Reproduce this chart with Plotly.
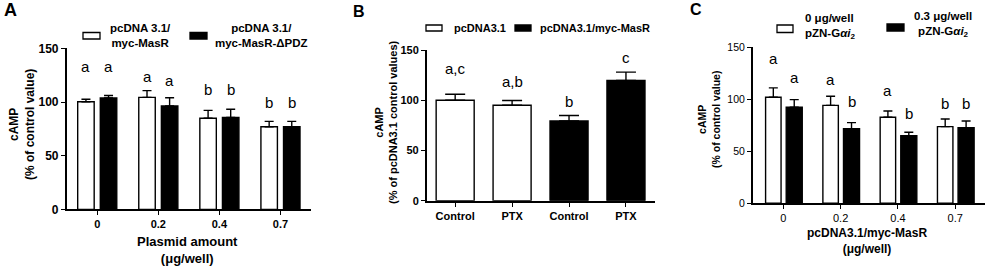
import plotly.graph_objects as go

# ---------------- data ----------------
# Panel A
a_groups = ["0", "0.2", "0.4", "0.7"]
a_names = ["pcDNA 3.1/<br>myc-MasR", "pcDNA 3.1/<br>myc-MasR-ΔPDZ"]
a_white = [100.3, 104.3, 84.8, 77.0]
a_white_err = [2.2, 6.3, 7.4, 5.0]
a_black = [103.7, 96.3, 85.7, 77.0]
a_black_err = [2.3, 7.7, 7.5, 5.0]
a_white_letters = ["a", "a", "b", "b"]
a_black_letters = ["a", "a", "b", "b"]

# Panel B
b_cats = ["Control", "PTX", "Control", "PTX"]
b_names = ["pcDNA3.1", "pcDNA3.1/myc-MasR"]
b_white = [100.0, 95.0]
b_white_err = [6.0, 4.8]
b_black = [79.5, 119.7]
b_black_err = [5.3, 8.3]
b_letters = ["a,c", "a,b", "b", "c"]

# Panel C
c_groups = ["0", "0.2", "0.4", "0.7"]
c_names = ["0 μg/well<br>pZN-G<i>αi</i><sub>2</sub>", "0.3 μg/well<br>pZN-G<i>αi</i><sub>2</sub>"]
c_white = [101.9, 94.2, 82.7, 73.7]
c_white_err = [9.1, 8.8, 6.1, 7.3]
c_black = [92.3, 71.8, 65.0, 72.8]
c_black_err = [7.4, 5.8, 3.3, 6.4]
c_white_letters = ["a", "a", "a", "b"]
c_black_letters = ["a", "b", "b", "b"]

# label heights (layout, in data units)
a_white_lab_y = [133, 123.6, 111.8, 99.4]
a_black_lab_y = [133, 119.6, 111.8, 99.4]
b_lab_y = [131.7, 118.4, 98.4, 142.7]
c_white_lab_y = [139.4, 119.2, 108, 96.1]
c_black_lab_y = [121.1, 97.7, 86.5, 96.1]

# ---------------- layout helpers ----------------
W, H = 1000, 271
FONT = "Liberation Sans, Arial, sans-serif"


def px(x):
    return x / W


def py(y):
    return 1 - y / H


fig = go.Figure()

LINE = dict(color="black", width=1.4)


def add_bars(xpos, vals, errs, color, xaxis, yaxis, offset, width, capw):
    fig.add_trace(go.Bar(
        x=xpos, y=vals, xaxis=xaxis, yaxis=yaxis,
        offset=offset, width=width,
        marker=dict(color=color, line=LINE),
        error_y=dict(type="data", array=errs, arrayminus=[0] * len(errs),
                     symmetric=False, color="black", thickness=1.4, width=capw),
        showlegend=False,
    ))


# Panel A
ax_pos = list(range(len(a_groups)))
add_bars(ax_pos, a_white, a_white_err, "white", "x", "y", -0.32, 0.27, 4.5)
add_bars(ax_pos, a_black, a_black_err, "black", "x", "y", 0.05, 0.27, 4.5)

# Panel B
add_bars([0, 1], b_white, b_white_err, "white", "x2", "y2", -0.334, 0.668, 10)
add_bars([2, 3], b_black, b_black_err, "black", "x2", "y2", -0.334, 0.668, 10)

# Panel C
cx_pos = list(range(len(c_groups)))
add_bars(cx_pos, c_white, c_white_err, "white", "x3", "y3", -0.31, 0.27, 4.5)
add_bars(cx_pos, c_black, c_black_err, "black", "x3", "y3", 0.05, 0.28, 4.5)


def xaxis_cfg(domain, rng, ticktext, bold, anchor):
    return dict(
        domain=domain, range=rng, anchor=anchor, automargin=False,
        tickmode="array", tickvals=list(range(len(ticktext))), ticktext=ticktext,
        showline=True, linecolor="black", linewidth=1.5,
        ticks="outside", ticklen=4, tickwidth=1.4, tickcolor="black",
        showgrid=False, zeroline=False, fixedrange=True,
        tickfont=dict(family=FONT, size=11, color="black",
                      weight="bold" if bold else "normal"),
    )


def yaxis_cfg(domain, bold, anchor, size):
    return dict(
        domain=domain, range=[0, 150], anchor=anchor, automargin=False,
        tickmode="array", tickvals=[0, 50, 100, 150],
        showline=True, linecolor="black", linewidth=1.5,
        ticks="outside", ticklen=4, tickwidth=1.4, tickcolor="black",
        showgrid=False, zeroline=False, fixedrange=True,
        tickfont=dict(family=FONT, size=size, color="black",
                      weight="bold" if bold else "normal"),
    )


fig.update_layout(
    width=W, height=H,
    margin=dict(l=0, r=0, t=0, b=0, autoexpand=False),
    paper_bgcolor="white", plot_bgcolor="white",
    barmode="overlay",
    showlegend=False,
    xaxis=xaxis_cfg([px(66.7), px(311)], [-0.5, 3.5], a_groups, True, "y"),
    yaxis=yaxis_cfg([py(209.4), py(48.3)], True, "x", 12),
    xaxis2=xaxis_cfg([px(426.7), px(655)], [-0.5, 3.51], b_cats, True, "y2"),
    yaxis2=yaxis_cfg([py(200.8), py(50)], True, "x2", 11),
    xaxis3=xaxis_cfg([px(752.7), px(985)], [-0.535, 3.52], c_groups, False, "y3"),
    yaxis3=yaxis_cfg([py(203.3), py(47.3)], False, "x3", 10.5),
)

ann = []
shapes = []


def letter(xref, yref, x, y, t):
    ann.append(dict(xref=xref, yref=yref, x=x, y=y, text=t, showarrow=False,
                    xanchor="center", yanchor="middle",
                    font=dict(family=FONT, size=15, color="black")))


for i in range(4):
    letter("x", "y", i - 0.32 + 0.135, a_white_lab_y[i], a_white_letters[i])
    letter("x", "y", i + 0.05 + 0.135, a_black_lab_y[i], a_black_letters[i])
    letter("x2", "y2", i, b_lab_y[i], b_letters[i])
    letter("x3", "y3", i - 0.31 + 0.135, c_white_lab_y[i], c_white_letters[i])
    letter("x3", "y3", i + 0.05 + 0.14, c_black_lab_y[i], c_black_letters[i])


def text(x, y, t, size, bold=True, xanchor="center", angle=0, align="center"):
    ann.append(dict(xref="paper", yref="paper", x=px(x), y=py(y), text=t,
                    showarrow=False, xanchor=xanchor, yanchor="middle",
                    textangle=angle, align=align,
                    font=dict(family=FONT, size=size, color="black",
                              weight="bold" if bold else "normal")))


def swatch(x0, x1, y0, y1, color):
    shapes.append(dict(type="rect", xref="paper", yref="paper",
                       x0=px(x0), x1=px(x1), y0=py(y1), y1=py(y0),
                       fillcolor=color, line=dict(color="black", width=1.3)))


# panel letters
text(10, 10, "A", 18)
text(359, 11, "B", 16)
text(696, 9.5, "C", 16)

# axis titles
text(22, 125, "cAMP<br>(% of control value)", 12, angle=-90)
text(187, 250, "Plasmid amount<br>(μg/well)", 13)
text(386, 122, "cAMP<br>(% of pcDNA3.1 control values)", 11, angle=-90)
text(709, 120, "cAMP<br>(% of control value)", 10.5, angle=-90)
text(867, 240.5, "pcDNA3.1/myc-MasR<br>(μg/well)", 12)

# legends
swatch(83, 100, 32.5, 39, "white")
text(140, 36, a_names[0], 11.5)
swatch(190, 207, 32.5, 39, "black")
text(261.6, 36, a_names[1], 11.5)

swatch(426, 442, 25, 31, "white")
text(451.7, 28.3, b_names[0], 11, xanchor="left")
swatch(515, 531, 25, 31, "black")
text(538.3, 28.3, b_names[1], 11, xanchor="left")

swatch(777, 793, 25, 32.5, "white")
text(802.7, 26.5, c_names[0], 11.5, xanchor="left", align="left")
swatch(887, 904, 24, 31, "black")
text(942.5, 24.8, c_names[1], 11.5)

fig.update_layout(annotations=ann, shapes=shapes)

fig.write_html("out.html",
               config={"displayModeBar": False},
               post_script="document.body.style.margin='0';document.body.style.padding='0';")
